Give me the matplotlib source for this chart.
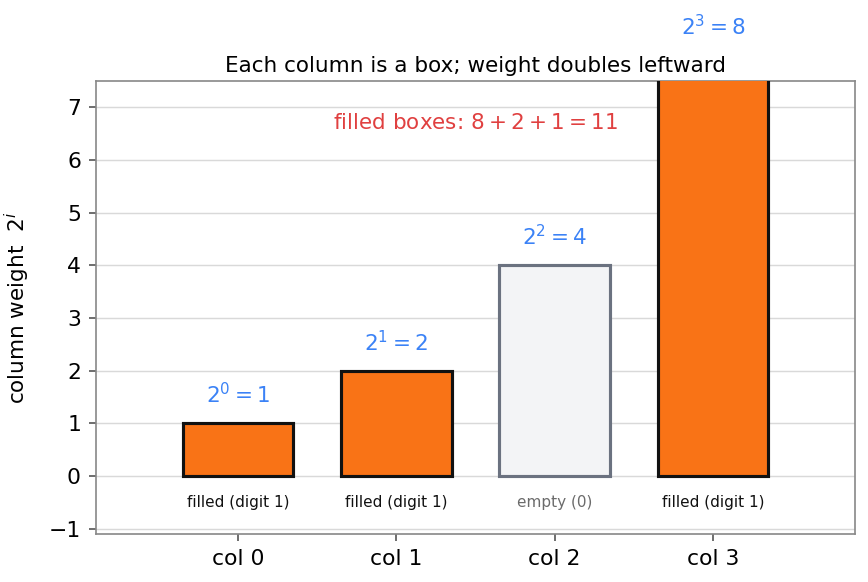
import numpy as np
import matplotlib.pyplot as plt

cols = ['col 0', 'col 1', 'col 2', 'col 3']
weights = [1, 2, 4, 8]
digits = [1, 1, 0, 1]
exps = [0, 1, 2, 3]

orange = '#f97316'
blue = '#3b82f6'

fig, ax = plt.subplots(figsize=(5.79, 3.88), dpi=150)
fig.subplots_adjust(left=0.110, right=0.985, bottom=0.0825, top=0.861)

x = np.arange(len(cols))
for i in x:
    if digits[i] == 1:
        ax.bar(i, weights[i], width=0.7, color=orange, edgecolor='#111111', linewidth=1.5, zorder=3)
        ax.text(i, -0.5, 'filled (digit 1)', ha='center', va='center', fontsize=7.3, color='#111111')
    else:
        ax.bar(i, weights[i], width=0.7, color='#f3f4f6', edgecolor='#6b7280', linewidth=1.5, zorder=3)
        ax.text(i, -0.5, 'empty (0)', ha='center', va='center', fontsize=7.3, color='#6b6b6b')
    ax.text(i, weights[i] + 0.3, '$2^{%d} = %d$' % (exps[i], weights[i]), ha='center', va='bottom',
            fontsize=10.3, color=blue, clip_on=False)

ax.text(1.5, 6.7, 'filled boxes: $8 + 2 + 1 = 11$', ha='center', va='center', fontsize=10.3, color='#e04040')

ax.set_xlim(-0.9, 3.9)
ax.set_ylim(-1.1, 7.5)
ax.set_xticks(x)
ax.set_xticklabels(cols, fontsize=10.5)
ax.set_yticks(range(-1, 8))
ax.tick_params(axis='y', labelsize=10.5)
ax.yaxis.grid(True, color='#d9d9d9', linewidth=0.7, zorder=0)
ax.set_axisbelow(True)
for s in ax.spines.values():
    s.set_color('#888888')
ax.tick_params(color='#555555')
ax.set_ylabel('column weight  $2^i$', fontsize=10.3, labelpad=8)
ax.set_title('Each column is a box; weight doubles leftward', fontsize=10.3, pad=4.5)

fig.savefig('out.png', dpi=150)
